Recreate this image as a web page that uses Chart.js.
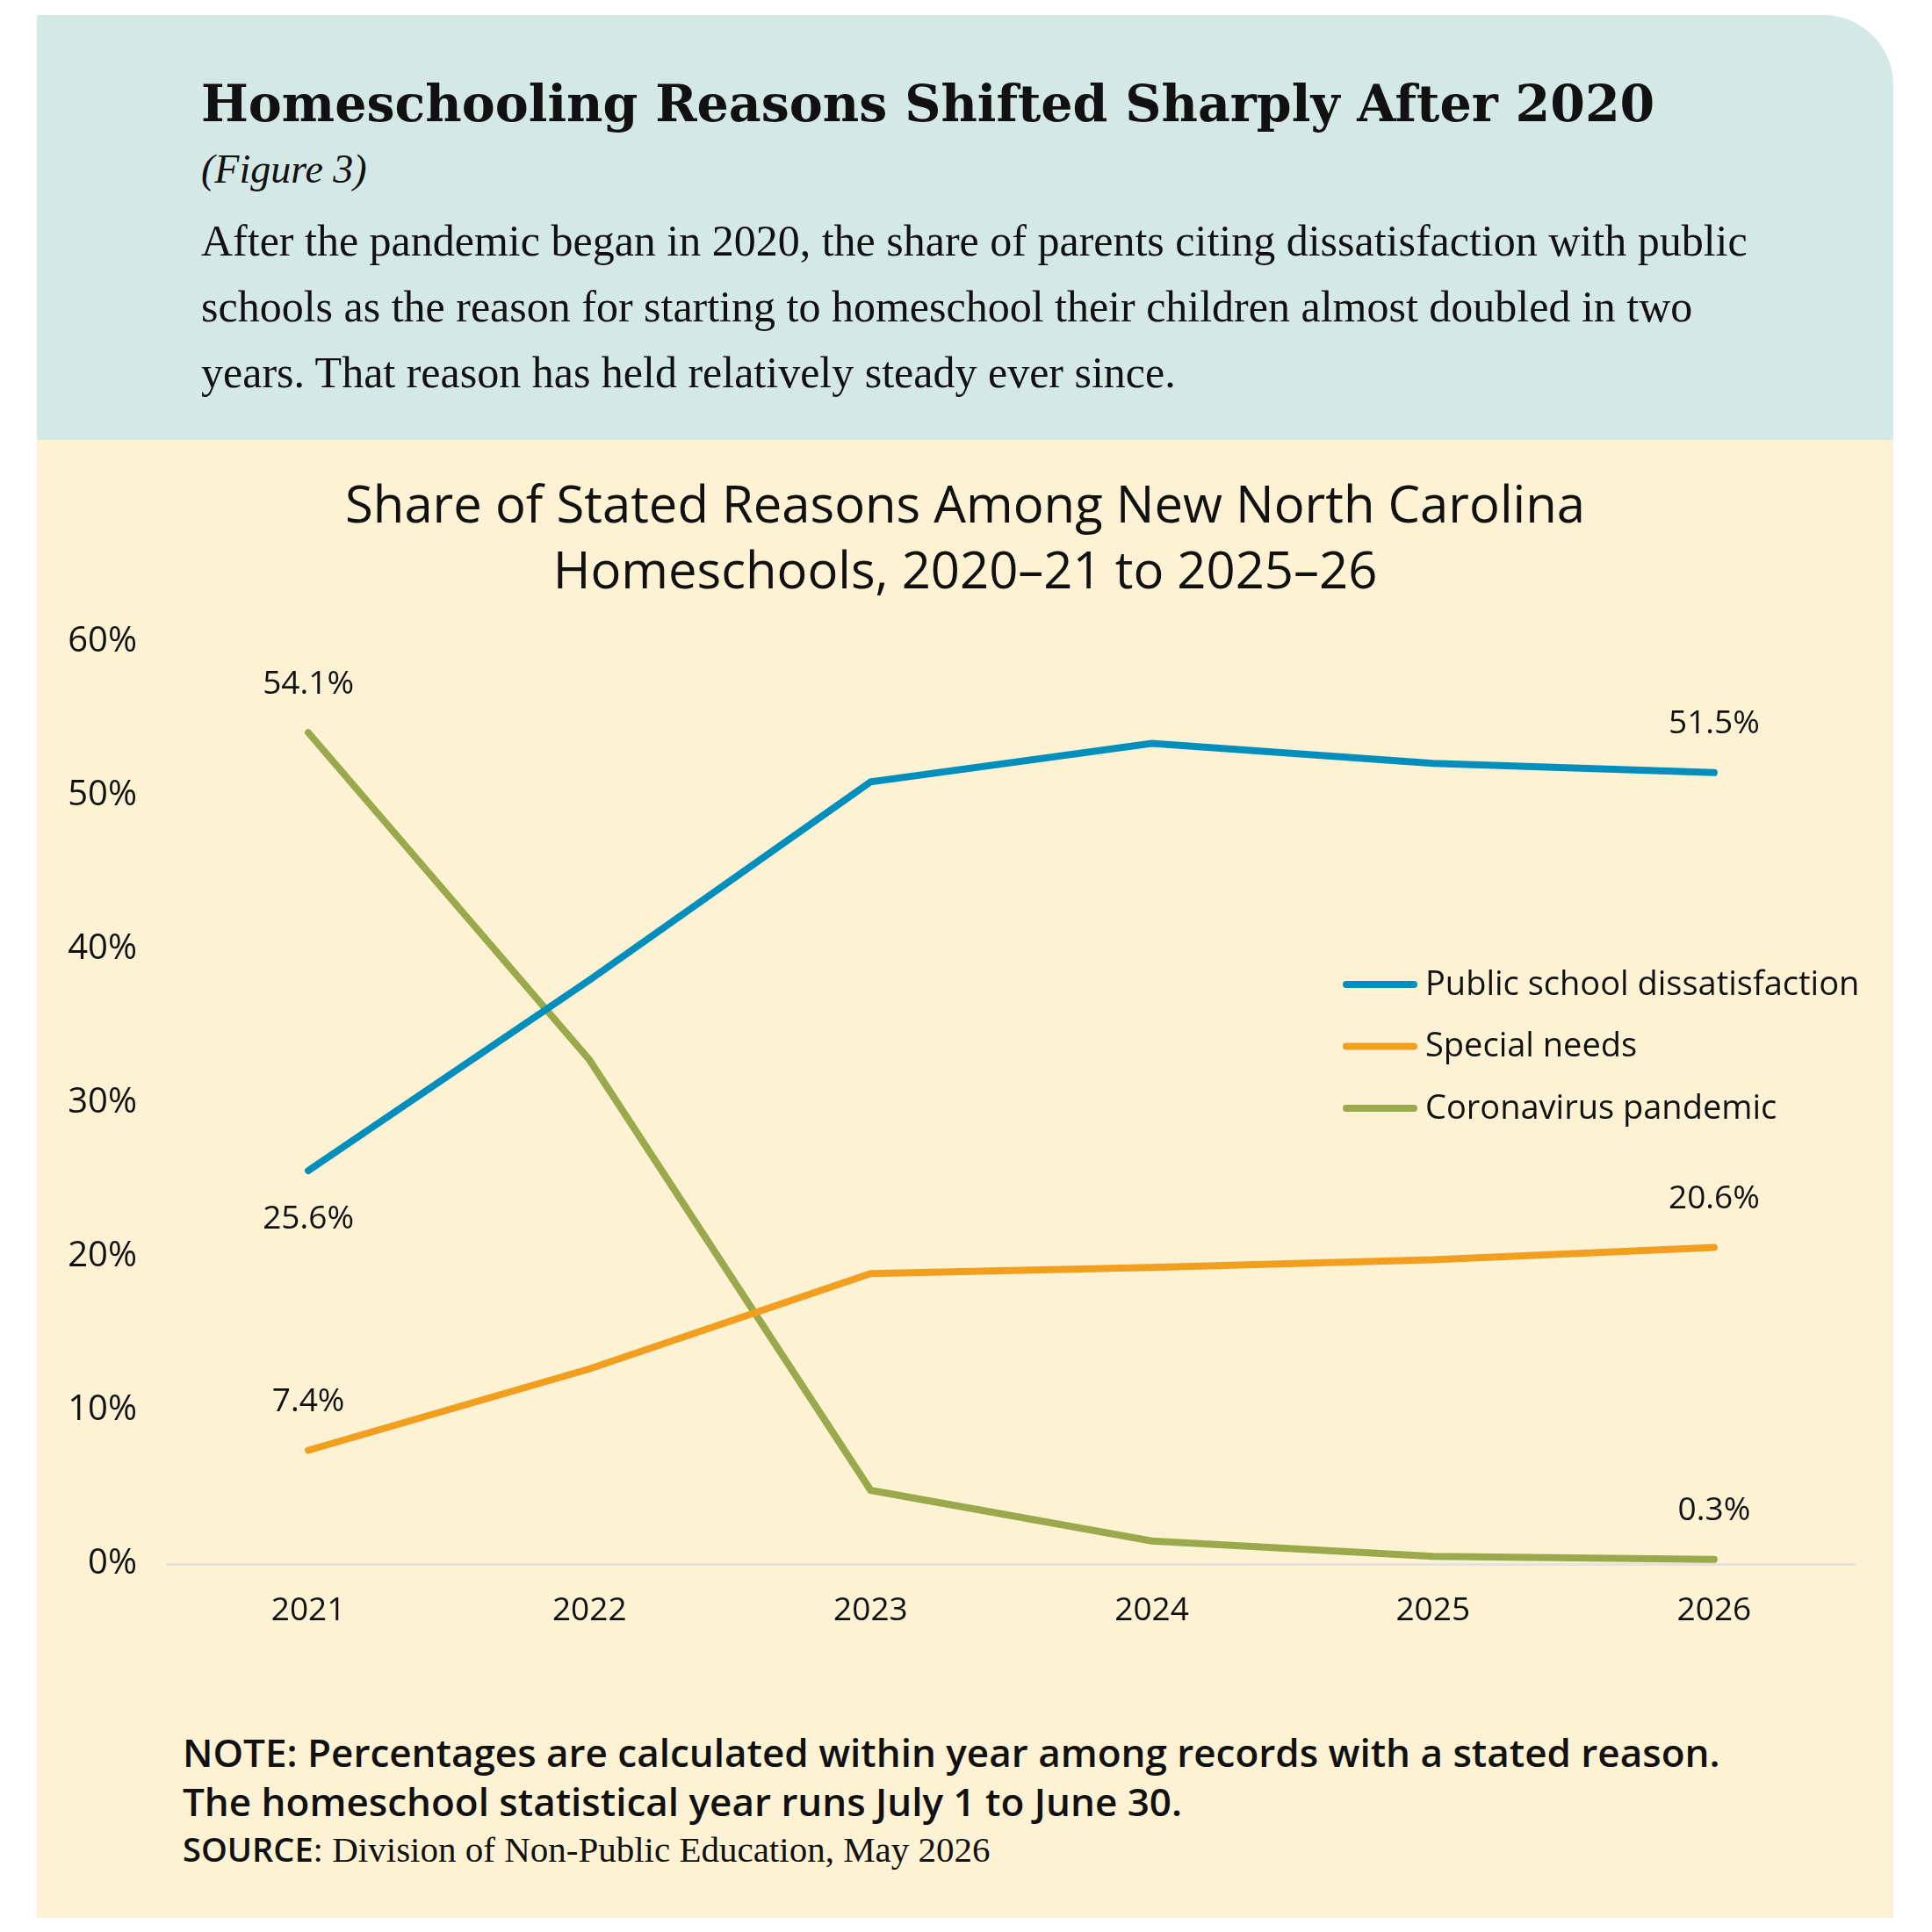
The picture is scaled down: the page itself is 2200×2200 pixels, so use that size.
<!DOCTYPE html>
<html>
<head>
<meta charset="utf-8">
<script src="https://cdn.jsdelivr.net/npm/chart.js@4.4.0/dist/chart.umd.min.js"></script>
<style>
  body { margin: 0; background: #fff; }
  #page { position: relative; width: 2200px; height: 2200px; }
  .head {
    position: absolute; left: 42px; top: 17px; width: 2114px; height: 484px;
    background: #d4e9e6; border-top-right-radius: 80px;
  }
  .panel {
    position: absolute; left: 42px; top: 501px; width: 2114px; height: 1683px;
    background: #fdf3d4;
  }
  .t { position: absolute; white-space: nowrap; color: #111; }
  #title { left: 187px; top: 61px; font: bold 57px "DejaVu Serif"; line-height: 80px; }
  #fig { left: 187px; top: 146px; font: italic 46px "Liberation Serif"; line-height: 60px; }
  #body { left: 187px; top: 220px; font: 50px "Liberation Serif"; line-height: 75px; }
  #ctitle { left: 0; width: 2114px; top: 34px; text-align: center; font: 58px "Open Sans"; line-height: 75px; white-space: normal; }
  #note { left: 166px; top: 1466px; font: 600 44px "Open Sans"; line-height: 56px; }
  #source { left: 166px; top: 1581px; font: 600 38px "Open Sans"; line-height: 46px; }
  #source span { font: 41px "Liberation Serif"; }
  canvas { position: absolute; left: 0; top: 0; }
</style>
</head>
<body>
<div id="page">
  <div class="head">
    <div class="t" id="title">Homeschooling Reasons Shifted Sharply After 2020</div>
    <div class="t" id="fig">(Figure 3)</div>
    <div class="t" id="body">After the pandemic began in 2020, the share of parents citing dissatisfaction with public<br>schools as the reason for starting to homeschool their children almost doubled in two<br>years. That reason has held relatively steady ever since.</div>
  </div>
  <div class="panel">
    <canvas id="chart" width="2114" height="1400"></canvas>
    <div class="t" id="ctitle">Share of Stated Reasons Among New North Carolina<br>Homeschools, 2020–21 to 2025–26</div>
    <div class="t" id="note">NOTE: Percentages are calculated within year among records with a stated reason.<br>The homeschool statistical year runs July 1 to June 30.</div>
    <div class="t" id="source">SOURCE<span>: Division of Non-Public Education, May 2026</span></div>
  </div>
</div>
<script>
// ---------- Dados ----------
const years = ["2021", "2022", "2023", "2024", "2025", "2026"];
const publicSchool = [25.6, 38.0, 50.9, 53.4, 52.1, 51.5];
const specialNeeds = [7.4, 12.7, 18.9, 19.3, 19.8, 20.6];
const coronavirus = [54.1, 32.8, 4.8, 1.5, 0.5, 0.3];
const seriesNames = ["Public school dissatisfaction", "Special needs", "Coronavirus pandemic"];
const seriesColors = ["#008fbc", "#f29e1e", "#9aa94b"];
const yTicks = [0, 10, 20, 30, 40, 50, 60];

const FONT = '"Open Sans"';
const INK = '#111111';

// ---------- Rotulos do primeiro e ultimo ponto ----------
// lado do rotulo: [primeiro, ultimo] por serie (-1 acima, +1 abaixo)
const endLabelSide = [[1, -1], [-1, -1], [-1, -1]];

const endLabels = {
  id: 'endLabels',
  afterDatasetsDraw(chart) {
    const ctx = chart.ctx;
    ctx.save();
    ctx.font = '37px ' + FONT;
    ctx.fillStyle = INK;
    ctx.textAlign = 'center';
    ctx.textBaseline = 'middle';
    chart.data.datasets.forEach((ds, i) => {
      const pts = chart.getDatasetMeta(i).data;
      [0, pts.length - 1].forEach((idx, k) => {
        const p = pts[idx];
        const side = endLabelSide[i][k];
        ctx.fillText(ds.data[idx].toFixed(1) + '%', p.x, p.y + side * 55);
      });
    });
    ctx.restore();
  }
};

// ---------- Legenda ----------
const sideLegend = {
  id: 'sideLegend',
  afterDraw(chart) {
    const ctx = chart.ctx;
    const area = chart.chartArea;
    const x0 = area.right - 583;
    const y0 = area.top + 390;
    ctx.save();
    ctx.font = '38px ' + FONT;
    ctx.textAlign = 'left';
    ctx.textBaseline = 'middle';
    chart.data.datasets.forEach((ds, i) => {
      const y = y0 + i * 70.5;
      ctx.strokeStyle = ds.borderColor;
      ctx.lineWidth = 8;
      ctx.lineCap = 'round';
      ctx.beginPath();
      ctx.moveTo(x0 + 4, y);
      ctx.lineTo(x0 + 81, y);
      ctx.stroke();
      ctx.fillStyle = INK;
      ctx.fillText(ds.label, x0 + 94, y + 1);
    });
    ctx.restore();
  }
};

const allSeries = [publicSchool, specialNeeds, coronavirus];

new Chart(document.getElementById('chart').getContext('2d'), {
  type: 'line',
  data: {
    labels: years,
    datasets: allSeries.map((vals, i) => ({
      label: seriesNames[i],
      data: vals,
      borderColor: seriesColors[i],
      backgroundColor: seriesColors[i],
      borderWidth: 8,
      borderCapStyle: 'round',
      borderJoinStyle: 'miter',
      pointRadius: 0,
      tension: 0,
      fill: false
    }))
  },
  options: {
    responsive: false,
    animation: false,
    layout: { padding: { top: 230, right: 44, left: 0, bottom: 0 } },
    plugins: {
      legend: { display: false },
      tooltip: { enabled: false },
      title: { display: false }
    },
    scales: {
      x: {
        offset: true,
        grid: { display: false, drawTicks: false },
        border: { display: true, color: '#e2e2e0', width: 3 },
        ticks: { color: INK, font: { family: FONT, size: 37 }, padding: 31 },
        afterFit: s => { s.height = 120; }
      },
      y: {
        min: 0,
        max: 60,
        afterBuildTicks: s => { s.ticks = yTicks.map(v => ({ value: v })); },
        grid: { display: false, drawTicks: false },
        border: { display: false },
        ticks: { color: INK, font: { family: FONT, size: 40 }, padding: 35, callback: v => v + '%' },
        afterFit: s => { s.width = 149; }
      }
    }
  },
  plugins: [endLabels, sideLegend]
});
</script>
</body>
</html>
